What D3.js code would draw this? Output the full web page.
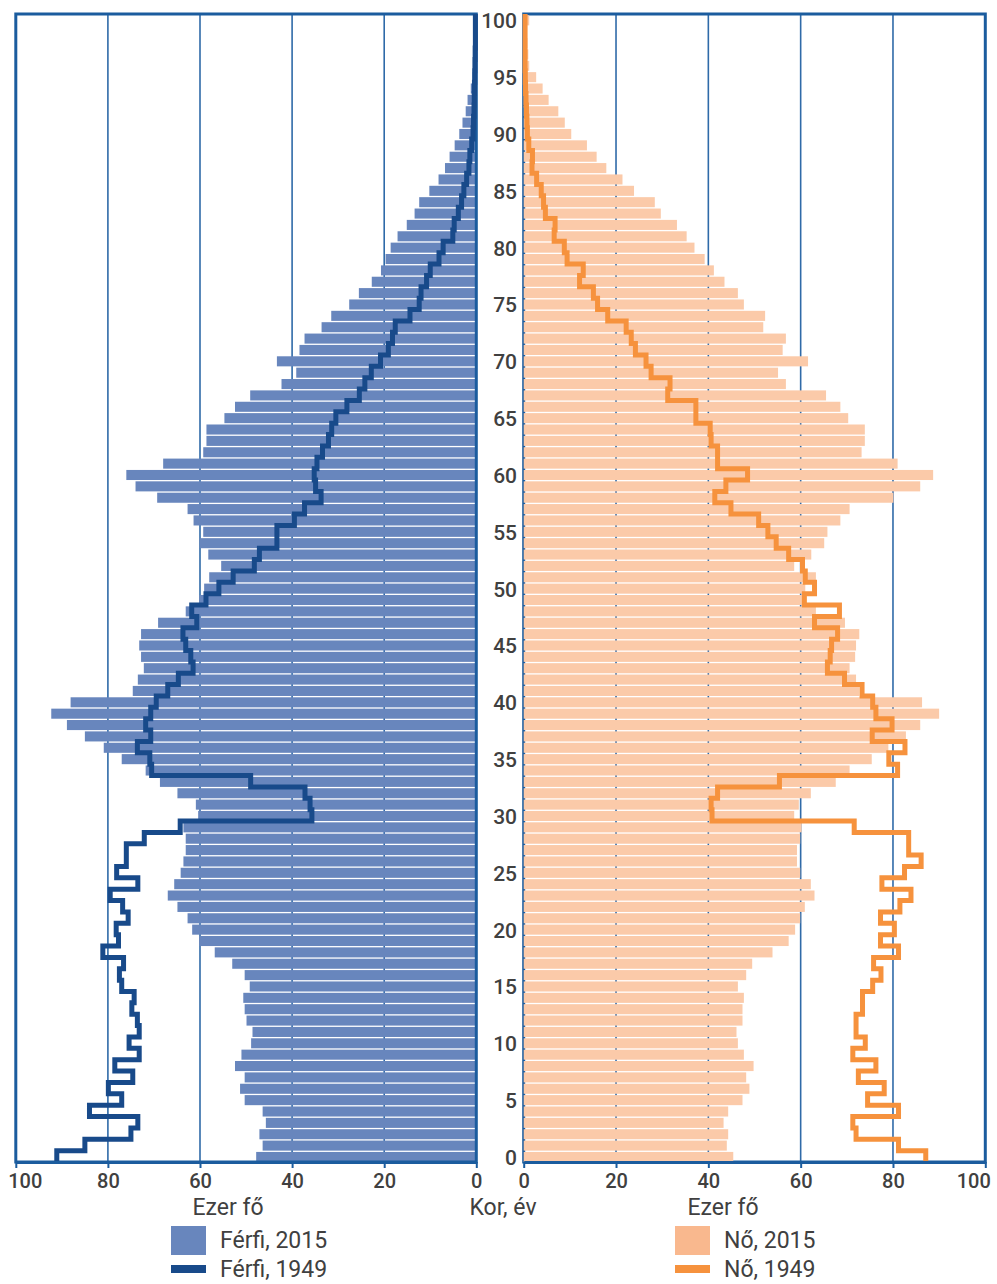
<!DOCTYPE html>
<html>
<head>
<meta charset="utf-8">
<script src="https://cdn.jsdelivr.net/npm/d3@7"></script>
<style>
body { margin: 0; background: #fff; }
text { font-family: Roboto, "DejaVu Sans", sans-serif; fill: #404040; }
</style>
</head>
<body>
<div id="graf"></div>
<script>
// korevek 0..100, ezer fo
var ages = d3.range(0, 101);
var ageLabels = [0, 5, 10, 15, 20, 25, 30, 35, 40, 45, 50, 55, 60, 65, 70, 75, 80, 85, 90, 95, 100];
var valueTicks = [0, 20, 40, 60, 80, 100];

var ferfi2015 = [47.8, 46.4, 47.1, 45.7, 46.4, 50.3, 51.3, 50.3, 52.4, 51.0,
  48.9, 48.6, 49.9, 50.3, 50.6, 49.2, 50.3, 53.0, 56.8, 60.2,
  61.7, 62.7, 64.9, 67.0, 65.6, 64.2, 63.6, 63.1, 63.1, 63.6,
  60.4, 60.9, 64.9, 68.7, 71.8, 77.0, 80.9, 85.0, 88.9, 92.3,
  88.1, 74.6, 73.5, 72.2, 72.8, 73.2, 72.8, 69.1, 63.1, 60.2,
  59.1, 58.0, 55.4, 58.2, 60.1, 59.3, 61.4, 62.7, 69.3, 74.0,
  76.0, 68.0, 59.3, 58.6, 58.6, 54.7, 52.4, 49.1, 42.3, 39.1,
  43.3, 38.4, 37.3, 33.6, 31.5, 27.6, 25.5, 22.7, 20.7, 19.7,
  18.6, 17.1, 15.1, 13.4, 12.4, 10.2, 8.2, 6.8, 5.8, 4.7,
  3.7, 3.0, 2.3, 1.9, 1.2, 0.8, 0.5, 0.3, 0.2, 0.1, 0.1];

var ferfi1949 = [91.1, 85.0, 75.0, 73.5, 84.0, 77.0, 79.9, 74.6, 78.5, 73.2,
  75.4, 73.2, 73.6, 74.8, 74.3, 77.0, 77.5, 76.6, 81.1, 77.7,
  78.2, 75.6, 76.8, 79.5, 73.5, 78.1, 76.0, 76.0, 72.1, 64.3,
  35.7, 36.1, 37.2, 49.0, 70.5, 70.9, 73.6, 70.7, 71.8, 70.7,
  69.5, 67.0, 64.7, 61.5, 62.0, 63.1, 63.7, 60.7, 61.8, 58.7,
  55.9, 52.8, 48.2, 47.1, 43.3, 43.3, 39.5, 37.3, 33.7, 34.9,
  35.2, 34.6, 33.4, 32.1, 31.4, 30.5, 28.1, 25.4, 24.2, 22.8,
  20.8, 19.1, 18.2, 17.6, 14.4, 12.4, 12.0, 10.8, 10.0, 8.1,
  7.2, 5.1, 4.8, 3.9, 3.2, 2.7, 2.1, 1.6, 1.4, 1.0,
  0.7, 0.6, 0.5, 0.45, 0.4, 0.35, 0.3, 0.25, 0.2, 0.2, 0.2];

var no2015 = [45.4, 44.0, 44.3, 43.3, 44.3, 47.4, 48.9, 48.2, 49.8, 47.7,
  46.4, 46.1, 47.4, 47.4, 47.7, 46.4, 48.2, 49.5, 53.9, 57.4,
  58.8, 59.9, 60.9, 63.0, 62.2, 59.9, 59.2, 59.2, 59.9, 60.2,
  58.6, 59.6, 62.2, 67.6, 70.6, 75.4, 79.0, 82.8, 85.9, 90.0,
  86.3, 72.7, 72.0, 70.6, 71.8, 72.0, 72.7, 69.6, 63.3, 60.5,
  61.0, 63.3, 58.6, 62.3, 65.1, 65.8, 68.6, 70.6, 80.1, 85.9,
  88.7, 81.0, 73.2, 73.9, 73.9, 70.3, 68.6, 65.5, 56.8, 55.1,
  61.6, 56.1, 56.8, 51.9, 52.3, 47.7, 46.4, 43.5, 41.2, 39.2,
  37.0, 35.3, 33.2, 29.7, 28.4, 23.9, 21.4, 17.9, 15.8, 13.7,
  10.3, 8.9, 7.5, 5.4, 4.1, 2.7, 1.2, 1.0, 0.8, 0.6, 1.2];

var no1949 = [87.1, 81.2, 72.0, 71.3, 81.2, 74.5, 78.1, 72.5, 76.3, 71.3,
  74.0, 72.0, 72.0, 73.4, 73.4, 75.6, 77.4, 75.8, 81.2, 77.3,
  80.3, 77.3, 81.5, 83.9, 77.6, 82.5, 86.1, 83.4, 83.4, 71.6,
  40.8, 40.6, 42.0, 55.4, 81.0, 79.1, 82.6, 75.5, 79.8, 76.3,
  75.6, 73.3, 69.5, 65.8, 66.4, 66.7, 68.0, 63.0, 68.4, 60.8,
  63.0, 61.0, 60.4, 57.4, 54.7, 52.9, 50.9, 44.9, 41.4, 43.8,
  48.5, 42.0, 42.0, 40.6, 40.4, 37.3, 37.3, 31.2, 31.7, 27.6,
  26.5, 24.2, 23.3, 22.2, 18.2, 16.0, 15.1, 12.1, 12.9, 9.4,
  8.8, 6.6, 6.8, 4.7, 4.3, 3.8, 2.8, 1.8, 1.9, 1.1,
  0.8, 0.7, 0.6, 0.5, 0.4, 0.35, 0.3, 0.3, 0.3, 0.3, 0.3];

var keret = "#1b5c9e";
var racs = "#2f6aa8";

var svg = d3.select("#graf").append("svg")
    .attr("width", 997)
    .attr("height", 1284);

// y: korev hatarai
var y = d3.scaleLinear().domain([0, 101]).range([1162, 14]);
var xBal = d3.scaleLinear().domain([0, 100]).range([476.3, 15.8]);
var xJobb = d3.scaleLinear().domain([0, 100]).range([523.7, 985.3]);
var res = 1.3;

// racsvonalak
svg.selectAll(".racsBal")
    .data([20, 40, 60, 80])
    .enter()
    .append("line")
    .attr("x1", function(d) {return xBal(d)})
    .attr("x2", function(d) {return xBal(d)})
    .attr("y1", y(101))
    .attr("y2", y(0))
    .attr("stroke", racs)
    .attr("stroke-width", 1.6);

svg.selectAll(".racsJobb")
    .data([20, 40, 60, 80])
    .enter()
    .append("line")
    .attr("x1", function(d) {return xJobb(d)})
    .attr("x2", function(d) {return xJobb(d)})
    .attr("y1", y(101))
    .attr("y2", y(0))
    .attr("stroke", racs)
    .attr("stroke-width", 1.6);

// jobb keret a savok alatt
svg.append("rect")
    .attr("x", xJobb(0))
    .attr("y", y(101))
    .attr("width", xJobb(100) - xJobb(0))
    .attr("height", y(0) - y(101))
    .attr("fill", "none")
    .attr("stroke", keret)
    .attr("stroke-width", 3);

// 2015 savok
svg.selectAll(".ferfiSav")
    .data(ages)
    .enter()
    .append("rect")
    .attr("x", function(d) {return xBal(ferfi2015[d])})
    .attr("y", function(d) {return y(d + 1) + res})
    .attr("width", function(d) {return xBal(0) - xBal(ferfi2015[d])})
    .attr("height", function(d) {return y(d) - y(d + 1) - res})
    .attr("fill", "#6886bd");

svg.selectAll(".noSav")
    .data(ages)
    .enter()
    .append("rect")
    .attr("x", xJobb(0))
    .attr("y", function(d) {return y(d + 1) + res})
    .attr("width", function(d) {return xJobb(no2015[d]) - xJobb(0)})
    .attr("height", function(d) {return y(d) - y(d + 1) - res})
    .attr("fill", "#fbcaa9");

// bal keret
svg.append("rect")
    .attr("x", xBal(100))
    .attr("y", y(101))
    .attr("width", xBal(0) - xBal(100))
    .attr("height", y(0) - y(101))
    .attr("fill", "none")
    .attr("stroke", keret)
    .attr("stroke-width", 3);

// 1949 lepcsos vonalak
function lepcso(ertekek) {
  var pontok = [];
  ages.forEach(function(a) {
    pontok.push([ertekek[a], a]);
    pontok.push([ertekek[a], a + 1]);
  });
  return pontok;
}

svg.append("path")
    .attr("d", d3.line().x(function(d) {return xBal(d[0])}).y(function(d) {return y(d[1])})(lepcso(ferfi1949)))
    .attr("fill", "none")
    .attr("stroke", "#184a8a")
    .attr("stroke-width", 5);

svg.append("path")
    .attr("d", d3.line().x(function(d) {return xJobb(d[0])}).y(function(d) {return y(d[1])})(lepcso(no1949)))
    .attr("fill", "none")
    .attr("stroke", "#f6923d")
    .attr("stroke-width", 5);

// also tengelyek
var tengelyBal = svg.append("g")
    .attr("transform", "translate(0," + y(0) + ")")
    .call(d3.axisBottom(xBal).tickValues(valueTicks).tickSize(6).tickSizeOuter(0).tickPadding(6));
var tengelyJobb = svg.append("g")
    .attr("transform", "translate(0," + y(0) + ")")
    .call(d3.axisBottom(xJobb).tickValues(valueTicks).tickSize(6).tickSizeOuter(0).tickPadding(6));

[tengelyBal, tengelyJobb].forEach(function(t) {
  t.select(".domain").attr("stroke", keret).attr("stroke-width", 3);
  t.selectAll(".tick line").attr("stroke", keret).attr("stroke-width", 2);
  t.selectAll(".tick text")
      .attr("fill", "#404040")
      .style("font-family", "Roboto, sans-serif")
      .style("font-size", "20px")
      .style("font-weight", 500);
});
// a szelso 100-as feliratok befele tolva
tengelyBal.selectAll(".tick text").filter(function(d) {return d == 100}).attr("dx", 9);
tengelyJobb.selectAll(".tick text").filter(function(d) {return d == 100}).attr("dx", -12);

// kor feliratok
svg.selectAll(".korFelirat")
    .data(ageLabels)
    .enter()
    .append("text")
    .attr("x", 517)
    .attr("y", function(d) {return (y(d) + y(d + 1)) / 2 + 1})
    .attr("dy", "0.36em")
    .attr("text-anchor", "end")
    .style("font-size", "21px")
    .style("font-weight", 500)
    .text(function(d) {return d});

// tengelycimek
var cimek = [{t: "Ezer fő", x: 228}, {t: "Kor, év", x: 503}, {t: "Ezer fő", x: 723}];
svg.selectAll(".cim")
    .data(cimek)
    .enter()
    .append("text")
    .attr("x", function(d) {return d.x})
    .attr("y", 1215)
    .attr("text-anchor", "middle")
    .style("font-size", "23px")
    .text(function(d) {return d.t});

// jelmagyarazat
var jelek = [
  {nev: "Férfi, 2015", x: 171, tipus: "sav", szin: "#6886bd", sor: 0},
  {nev: "Férfi, 1949", x: 171, tipus: "vonal", szin: "#184a8a", sor: 1},
  {nev: "Nő, 2015", x: 675, tipus: "sav", szin: "#f9b88e", sor: 0},
  {nev: "Nő, 1949", x: 675, tipus: "vonal", szin: "#f6923d", sor: 1}
];

var jel = svg.selectAll(".jel")
    .data(jelek)
    .enter()
    .append("g")
    .attr("transform", function(d) {return "translate(" + d.x + "," + (1240 + d.sor * 29) + ")"});

jel.append("rect")
    .attr("x", 0)
    .attr("y", function(d) {return d.tipus == "sav" ? -14 : -4})
    .attr("width", 35)
    .attr("height", function(d) {return d.tipus == "sav" ? 29 : 8})
    .attr("fill", function(d) {return d.szin});

jel.append("text")
    .attr("x", 49)
    .attr("y", 0)
    .attr("dy", "0.34em")
    .style("font-size", "23px")
    .text(function(d) {return d.nev});
</script>
</body>
</html>
